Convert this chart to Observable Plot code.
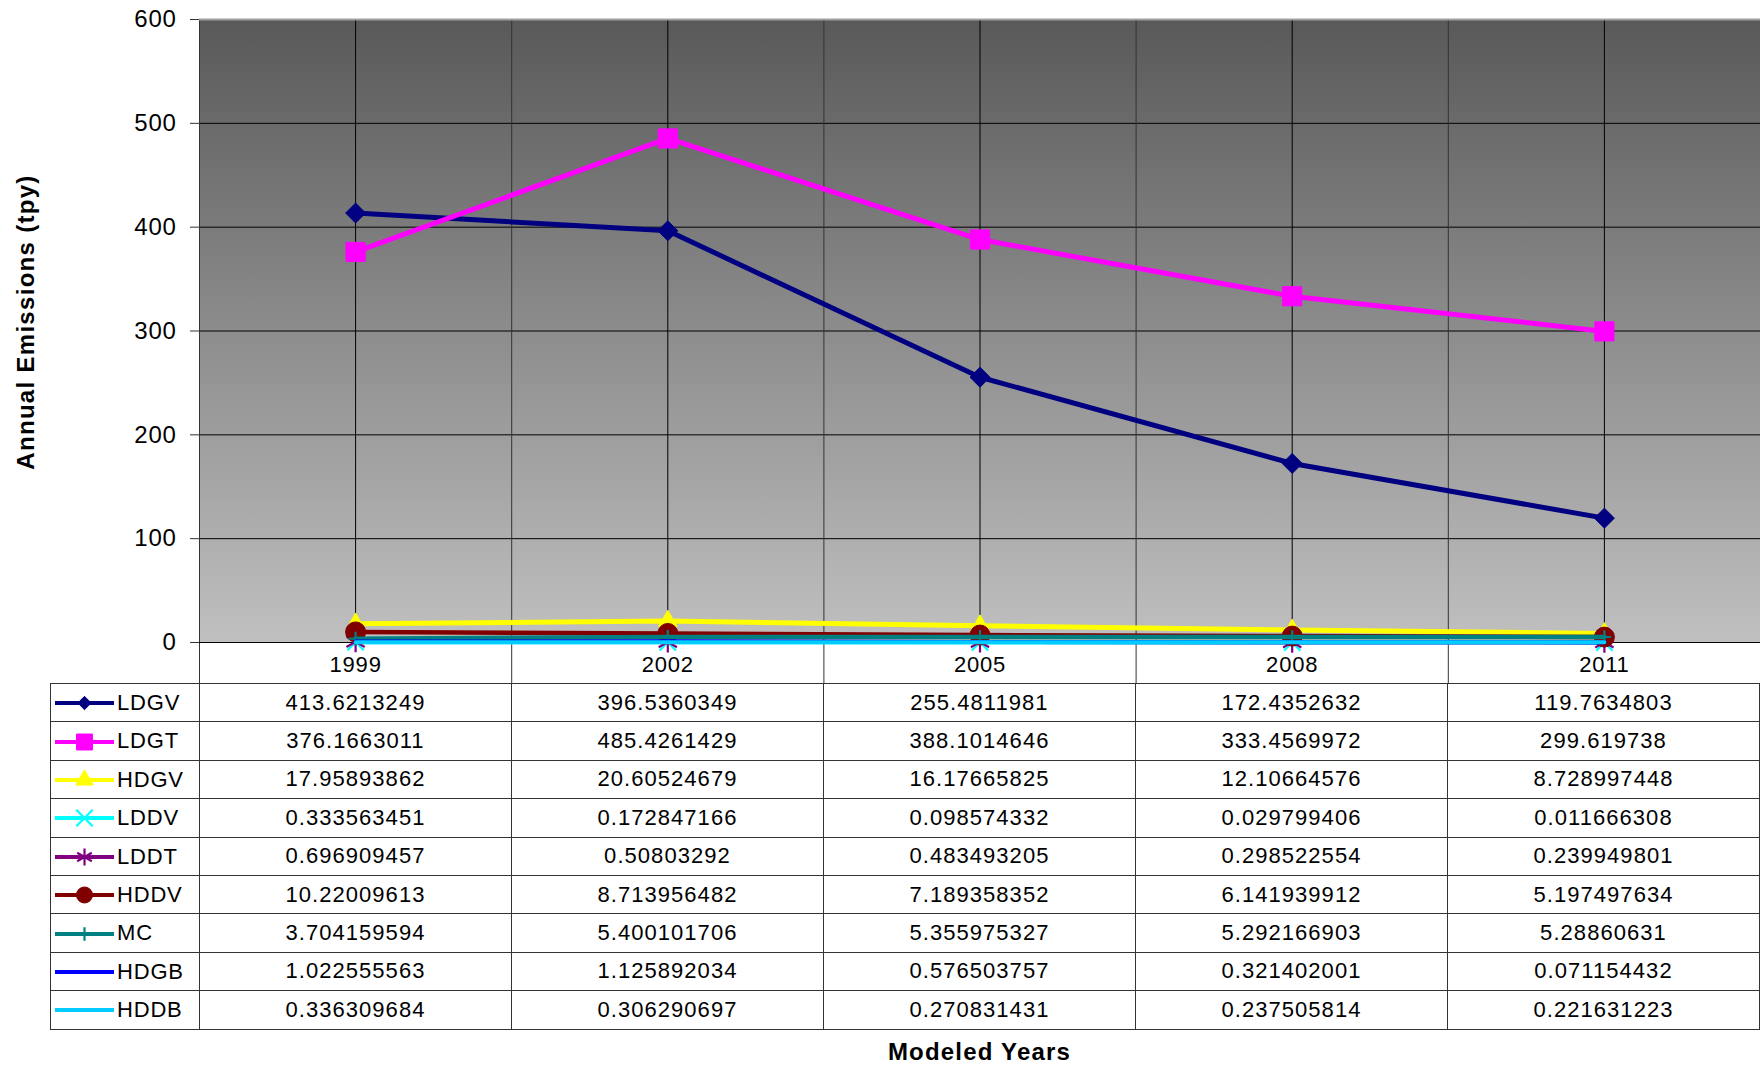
<!DOCTYPE html>
<html><head><meta charset="utf-8">
<script src="https://cdn.jsdelivr.net/npm/d3@7"></script>
<script src="https://cdn.jsdelivr.net/npm/@observablehq/plot@0.6"></script>
<style>
html,body{margin:0;padding:0;background:#fff;overflow:hidden;}
body{width:1760px;height:1065px;position:relative;font-family:"Liberation Sans",Arial,sans-serif;}
#chart{position:absolute;left:0;top:0;}
#table{position:absolute;left:50px;top:683px;border-collapse:collapse;table-layout:fixed;font-size:22px;color:#000;}
#table td{border:1px solid #333;padding:0;height:37.4px;text-align:center;white-space:nowrap;overflow:hidden;letter-spacing:1.05px;}
#table td.key{text-align:left;letter-spacing:0.8px;}
#table td.key span{vertical-align:middle;}
#xtitle{position:absolute;left:199px;width:1561px;top:1040px;text-align:center;font-weight:bold;font-size:24px;line-height:24px;letter-spacing:1.2px;}
</style></head><body>
<div id="chart"></div>
<table id="table"></table>
<div id="xtitle"></div>
<script>
// ---- data ----
const years = [1999, 2002, 2005, 2008, 2011];
const seriesNames = ["LDGV", "LDGT", "HDGV", "LDDV", "LDDT", "HDDV", "MC", "HDGB", "HDDB"];
const LDGV = [413.6213249, 396.5360349, 255.4811981, 172.4352632, 119.7634803];
const LDGT = [376.1663011, 485.4261429, 388.1014646, 333.4569972, 299.619738];
const HDGV = [17.95893862, 20.60524679, 16.17665825, 12.10664576, 8.728997448];
const LDDV = [0.333563451, 0.172847166, 0.098574332, 0.029799406, 0.011666308];
const LDDT = [0.696909457, 0.50803292, 0.483493205, 0.298522554, 0.239949801];
const HDDV = [10.22009613, 8.713956482, 7.189358352, 6.141939912, 5.197497634];
const MC   = [3.704159594, 5.400101706, 5.355975327, 5.292166903, 5.28860631];
const HDGB = [1.022555563, 1.125892034, 0.576503757, 0.321402001, 0.071154432];
const HDDB = [0.336309684, 0.306290697, 0.270831431, 0.237505814, 0.221631223];
const yTicks = [0, 100, 200, 300, 400, 500, 600];
const yTitle = "Annual Emissions (tpy)";
const xTitle = "Modeled Years";

// ---- styles ----
const seriesValues = [LDGV, LDGT, HDGV, LDDV, LDDT, HDDV, MC, HDGB, HDDB];
const seriesColors = ["#000080", "#ff00ff", "#ffff00", "#00ffff", "#800080", "#800000", "#008080", "#0000ff", "#00ccff"];
const seriesSymbols = ["diamond2", "square", "triangle", "times", "asterisk", "circle", "plus", null, null];
const symbolR = {diamond2: 9, square: 10.8, triangle: 7, times: 7.5, asterisk: 10, circle: 10, plus: 4.5};
const keyR = {diamond2: 6, square: 9, triangle: 6.5, times: 7.5, asterisk: 8, circle: 8, plus: 4.5};
const strokeSymbols = new Set(["times", "asterisk", "plus"]);
const lineWidths = [5, 5, 5, 4, 4, 4.5, 4.5, 4, 4];

const step = years[1] - years[0];
const xDomain = [years[0] - step / 2, years[years.length - 1] + step / 2];
const bounds = [...years.map(y => y - step / 2), years[years.length - 1] + step / 2];

const seriesMarks = [];
seriesNames.forEach((name, i) => {
  const rows = years.map((yr, j) => ({year: yr, value: seriesValues[i][j]}));
  seriesMarks.push(Plot.line(rows, {x: "year", y: "value", stroke: seriesColors[i], strokeWidth: lineWidths[i], strokeLinejoin: "round"}));
  const sym = seriesSymbols[i];
  if (sym) {
    const isStroke = strokeSymbols.has(sym);
    seriesMarks.push(Plot.dot(rows, {
      x: "year", y: "value", symbol: () => sym, r: symbolR[sym],
      fill: isStroke ? "none" : seriesColors[i],
      stroke: seriesColors[i], strokeWidth: isStroke ? 2.2 : 1
    }));
  }
});

const chart = Plot.plot({
  width: 1760, height: 683,
  marginLeft: 199, marginRight: 0, marginTop: 19, marginBottom: 41,
  style: {fontFamily: "'Liberation Sans', Arial, sans-serif", background: "white", color: "black", overflow: "visible"},
  x: {domain: xDomain},
  y: {domain: [yTicks[0], yTicks[yTicks.length - 1]]},
  symbol: {type: "identity"},
  marks: [
    Plot.frame({fill: "url(#plotBg)", stroke: "none"}),
    Plot.gridY({ticks: yTicks.slice(1, -1), stroke: "#000", strokeOpacity: 1}),
    Plot.gridX({ticks: years, stroke: "#000", strokeOpacity: 1}),
    Plot.ruleX(bounds, {stroke: "#333", insetBottom: -41}),
    Plot.ruleY([yTicks[yTicks.length - 1]], {stroke: "#a0a0a0", strokeWidth: 2}),
    Plot.ruleY([0], {stroke: "#000"}),
    Plot.axisY({ticks: yTicks, tickSize: 9, tickPadding: 14, fontSize: 24, label: null, stroke: "#333"}),
    Plot.axisX({ticks: years, tickSize: 0, tickPadding: 14, fontSize: 22, tickFormat: d => String(d), label: null}),
    Plot.text([yTitle], {text: d => d, frameAnchor: "left", textAnchor: "middle", lineAnchor: "middle", rotate: -90, dx: -173, dy: -9, fontSize: 24, fontWeight: "bold", fill: "black"}),
    ...seriesMarks
  ]
});

// text spacing to match the reference's wider glyph advances
const yTickStr = new Set(yTicks.map(String));
const yearStr = new Set(years.map(String));
chart.querySelectorAll("text").forEach(t => {
  const s = t.textContent;
  if (s === yTitle) t.setAttribute("style", (t.getAttribute("style") || "") + ";letter-spacing:1.3px");
  else if (yearStr.has(s)) t.setAttribute("style", (t.getAttribute("style") || "") + ";letter-spacing:0.8px");
  else if (yTickStr.has(s)) t.setAttribute("style", (t.getAttribute("style") || "") + ";letter-spacing:0.7px");
});

// gradient background for the plot area
const svgNS = "http://www.w3.org/2000/svg";
const defs = document.createElementNS(svgNS, "defs");
defs.innerHTML = '<linearGradient id="plotBg" x1="0" y1="0" x2="0" y2="1"><stop offset="0" stop-color="#595959"/><stop offset="1" stop-color="#c0c0c0"/></linearGradient>';
chart.insertBefore(defs, chart.firstChild);
document.getElementById("chart").appendChild(chart);

// ---- data table with legend keys ----
const table = document.getElementById("table");
const colgroup = document.createElement("colgroup");
const colW = (1760 - 199) / years.length;
[149, ...years.map(() => colW)].forEach(w => {
  const c = document.createElement("col"); c.style.width = w + "px"; colgroup.appendChild(c);
});
table.appendChild(colgroup);
const types = {diamond2: d3.symbolDiamond2, square: d3.symbolSquare, triangle: d3.symbolTriangle, times: d3.symbolTimes, asterisk: d3.symbolAsterisk, circle: d3.symbolCircle, plus: d3.symbolPlus};
seriesNames.forEach((name, i) => {
  const tr = document.createElement("tr");
  const td = document.createElement("td"); td.className = "key";
  const s = document.createElementNS(svgNS, "svg");
  s.setAttribute("width", 66); s.setAttribute("height", 24);
  s.style.verticalAlign = "middle";
  s.style.overflow = "visible";
  const ln = document.createElementNS(svgNS, "line");
  ln.setAttribute("x1", 4); ln.setAttribute("x2", 63); ln.setAttribute("y1", 12); ln.setAttribute("y2", 12);
  ln.setAttribute("stroke", seriesColors[i]); ln.setAttribute("stroke-width", 4);
  s.appendChild(ln);
  const sym = seriesSymbols[i];
  if (sym) {
    const p = document.createElementNS(svgNS, "path");
    p.setAttribute("d", d3.symbol(types[sym], Math.PI * keyR[sym] * keyR[sym])());
    p.setAttribute("transform", "translate(33.5,12)");
    const isStroke = strokeSymbols.has(sym);
    p.setAttribute("fill", isStroke ? "none" : seriesColors[i]);
    p.setAttribute("stroke", seriesColors[i]);
    p.setAttribute("stroke-width", isStroke ? 2.2 : 1);
    s.appendChild(p);
  }
  td.appendChild(s);
  const sp = document.createElement("span"); sp.textContent = name; td.appendChild(sp);
  tr.appendChild(td);
  seriesValues[i].forEach(v => {
    const c = document.createElement("td"); c.textContent = String(v); tr.appendChild(c);
  });
  table.appendChild(tr);
});
document.getElementById("xtitle").textContent = xTitle;
</script>
</body></html>
